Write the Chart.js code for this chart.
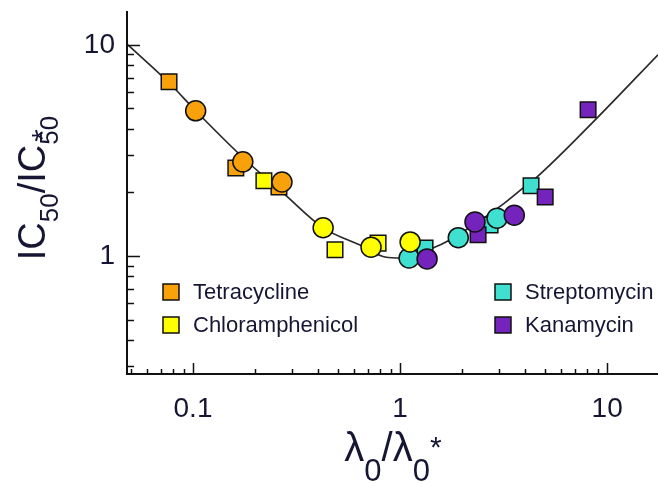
<!DOCTYPE html>
<html>
<head>
<meta charset="utf-8">
<script src="https://cdn.jsdelivr.net/npm/chart.js@4"></script>
<style>
  html, body { margin: 0; padding: 0; background: #fff; }
  #wrap { width: 658px; height: 483px; }
</style>
</head>
<body>
<div id="wrap"><canvas id="chart" width="658" height="483"></canvas></div>
<script>
// fitted curve
const curveX = [0.0485, 0.0766, 0.103, 0.1725, 0.278, 0.425, 0.655, 0.846, 1.02, 1.44, 1.71, 3.11, 3.93, 4.59, 8.95, 17.6];
const curveY = [10.0, 6.61, 4.87, 2.95, 1.95, 1.358, 1.115, 0.989, 0.978, 1.09, 1.18, 1.745, 2.10, 2.37, 4.51, 8.97];

// squares and circles per antibiotic
const tetraSqX = [0.0766, 0.161, 0.26];
const tetraSqY = [6.68, 2.61, 2.12];
const tetraCiX = [0.103, 0.174, 0.269];
const tetraCiY = [4.87, 2.79, 2.24];

const chloroSqX = [0.22, 0.485, 0.783];
const chloroSqY = [2.27, 1.07, 1.15];
const chloroCiX = [0.425, 0.724, 1.118];
const chloroCiY = [1.36, 1.10, 1.165];

const streptoSqX = [1.32, 2.72, 4.29];
const streptoSqY = [1.09, 1.40, 2.15];
const streptoCiX = [1.105, 1.91, 2.94];
const streptoCiY = [0.978, 1.22, 1.51];

const kanaSqX = [2.38, 5.02, 8.09];
const kanaSqY = [1.26, 1.90, 4.92];
const kanaCiX = [1.35, 2.30, 3.56];
const kanaCiY = [0.968, 1.45, 1.56];

const names = ["Tetracycline", "Chloramphenicol", "Streptomycin", "Kanamycin"];
const colors = ["#F8A10B", "#FFFF00", "#3FE0CF", "#7424BC"];

const xTickValues = [0.1, 1, 10];
const yTickValues = [1, 10];
const xMin = 0.048, xMax = 17.6;
const yMin = 0.276, yMax = 14.3;

const textColor = "#161634";
const fontFamily = "'Liberation Sans', Arial, sans-serif";

function pts(xs, ys) {
  return xs.map((v, i) => ({ x: v, y: ys[i] }));
}

function minorTicks(lo, hi) {
  const out = [];
  for (let e = -3; e <= 3; e++) {
    for (let m = 1; m < 10; m++) {
      const v = m * Math.pow(10, e);
      if (v >= lo && v <= hi) out.push(v);
    }
  }
  return out;
}

function markerSet(label, data, color, style, order) {
  return {
    label: label,
    data: data,
    showLine: false,
    pointStyle: style,
    pointRadius: style === "rect" ? 11 : 10,
    pointHoverRadius: style === "rect" ? 11 : 10,
    pointBackgroundColor: color,
    pointBorderColor: "#111",
    pointBorderWidth: 1.5,
    order: order
  };
}

// draws text pieces one after another, subscripts shifted down
function drawPieces(ctx, pieces) {
  let x = 0;
  pieces.forEach(p => {
    ctx.font = p.size + "px " + fontFamily;
    ctx.fillText(p.t, x + (p.dx || 0), p.dy || 0);
    if (!p.stack) x += ctx.measureText(p.t).width;
  });
}

function piecesWidth(ctx, pieces) {
  let w = 0;
  pieces.forEach(p => {
    ctx.font = p.size + "px " + fontFamily;
    if (!p.stack) w += ctx.measureText(p.t).width;
  });
  return w;
}

const yTitle = [
  { t: "IC", size: 38 },
  { t: "50", size: 26, dy: 13 },
  { t: "/IC", size: 38 },
  { t: "*", size: 32, dy: 9, dx: 3, stack: true },
  { t: "50", size: 26, dy: 13 }
];
const xTitle = [
  { t: "\u03bb", size: 40 },
  { t: "0", size: 31, dy: 20 },
  { t: "/\u03bb", size: 40 },
  { t: "0", size: 31, dy: 20 },
  { t: "*", size: 30, dy: -4 }
];

function noPad(s) {
  s.paddingTop = 0;
  s.paddingBottom = 0;
  s.paddingLeft = 0;
  s.paddingRight = 0;
}

const overlay = {
  id: "overlay",
  afterDraw(chart) {
    const { ctx, chartArea: a, scales: { x, y } } = chart;
    ctx.save();

    // inward tick marks
    ctx.strokeStyle = "#111";
    ctx.lineWidth = 1.5;
    ctx.beginPath();
    minorTicks(xMin, xMax).forEach(v => {
      const p = Math.round(x.getPixelForValue(v)) + 0.5;
      const len = xTickValues.includes(v) ? 11 : 5;
      ctx.moveTo(p, a.bottom);
      ctx.lineTo(p, a.bottom - len);
    });
    minorTicks(yMin, yMax).forEach(v => {
      const p = Math.round(y.getPixelForValue(v)) + 0.5;
      const len = yTickValues.includes(v) ? 13 : 7;
      ctx.moveTo(a.left, p);
      ctx.lineTo(a.left + len, p);
    });
    ctx.stroke();

    // x tick labels
    ctx.fillStyle = textColor;
    ctx.font = "28px " + fontFamily;
    ctx.textAlign = "center";
    ctx.textBaseline = "middle";
    x.ticks.forEach(t => {
      ctx.fillText(String(t.value), x.getPixelForValue(t.value), a.bottom + 35);
    });

    // legend inside the plot
    const rows = [292, 325];
    const cols = [171, 503];
    names.forEach((n, i) => {
      const cx = cols[Math.floor(i / 2)];
      const cy = rows[i % 2];
      ctx.fillStyle = colors[i];
      ctx.fillRect(cx - 8, cy - 8, 16, 16);
      ctx.strokeStyle = "#111";
      ctx.lineWidth = 1.5;
      ctx.strokeRect(cx - 8, cy - 8, 16, 16);
      ctx.fillStyle = textColor;
      ctx.font = "22px " + fontFamily;
      ctx.textBaseline = "middle";
      ctx.textAlign = "left";
      ctx.fillText(n, cx + 22, cy + 1);
    });

    // axis titles
    ctx.fillStyle = textColor;
    ctx.textBaseline = "alphabetic";
    ctx.textAlign = "left";
    const yw = piecesWidth(ctx, yTitle);
    ctx.save();
    ctx.translate(45, 188 + yw / 2);
    ctx.rotate(-Math.PI / 2);
    drawPieces(ctx, yTitle);
    ctx.restore();

    const xw = piecesWidth(ctx, xTitle);
    ctx.save();
    ctx.translate(393 - xw / 2, 461);
    drawPieces(ctx, xTitle);
    ctx.restore();

    ctx.restore();
  }
};

const datasets = [
  {
    label: "fit",
    data: pts(curveX, curveY),
    showLine: true,
    borderColor: "#2a2a2a",
    borderWidth: 1.7,
    pointRadius: 0,
    pointHoverRadius: 0,
    cubicInterpolationMode: "monotone",
    order: 9
  },
  markerSet(names[0], pts(tetraSqX, tetraSqY), colors[0], "rect", 7),
  markerSet(names[1], pts(chloroSqX, chloroSqY), colors[1], "rect", 6),
  markerSet(names[2], pts(streptoSqX, streptoSqY), colors[2], "rect", 5),
  markerSet(names[3], pts(kanaSqX, kanaSqY), colors[3], "rect", 4),
  markerSet(names[0], pts(tetraCiX, tetraCiY), colors[0], "circle", 3),
  markerSet(names[2], pts(streptoCiX, streptoCiY), colors[2], "circle", 2),
  markerSet(names[3], pts(kanaCiX, kanaCiY), colors[3], "circle", 1),
  markerSet(names[1], pts(chloroCiX, chloroCiY), colors[1], "circle", 0)
];

new Chart(document.getElementById("chart"), {
  type: "scatter",
  data: { datasets: datasets },
  options: {
    responsive: false,
    animation: false,
    events: [],
    layout: { autoPadding: false, padding: { top: 12, right: 0, left: 0, bottom: 0 } },
    plugins: {
      legend: { display: false },
      tooltip: { enabled: false }
    },
    scales: {
      x: {
        type: "logarithmic",
        min: xMin,
        max: xMax,
        grid: { display: false, drawTicks: false },
        border: { display: true, color: "#111", width: 2 },
        afterBuildTicks: s => { s.ticks = xTickValues.map(v => ({ value: v })); },
        afterFit: s => { s.height = 109; noPad(s); },
        ticks: { display: false, autoSkip: false }
      },
      y: {
        type: "logarithmic",
        min: yMin,
        max: yMax,
        grid: { display: false, drawTicks: false },
        border: { display: true, color: "#111", width: 2 },
        afterBuildTicks: s => { s.ticks = yTickValues.map(v => ({ value: v })); },
        afterFit: s => { s.width = 127; noPad(s); },
        ticks: {
          autoSkip: false,
          padding: 12,
          color: textColor,
          font: { family: fontFamily, size: 28 },
          callback: v => String(v)
        }
      }
    }
  },
  plugins: [overlay]
});
</script>
</body>
</html>
